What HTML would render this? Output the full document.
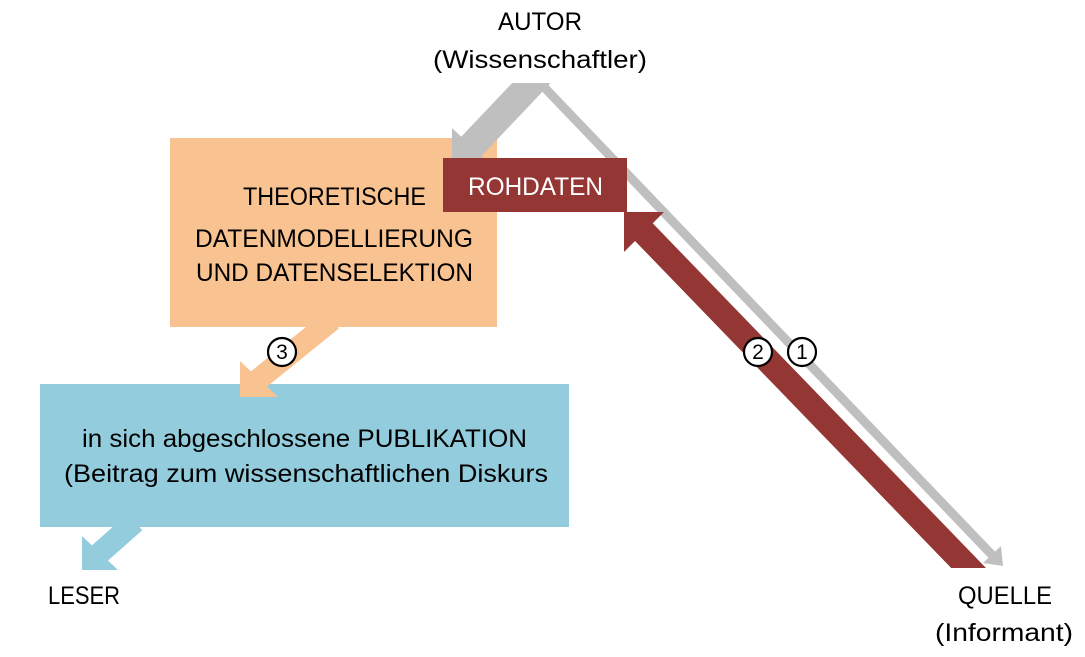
<!DOCTYPE html>
<html><head><meta charset="utf-8"><style>html,body{margin:0;padding:0;background:#fff}svg{display:block}</style></head>
<body>
<svg width="1085" height="657" viewBox="0 0 1085 657" xmlns="http://www.w3.org/2000/svg" font-family="Liberation Sans, sans-serif" font-size="25">
<defs>
<clipPath id="cr"><rect x="0" y="0" width="1085" height="568"/></clipPath>
<clipPath id="cg"><rect x="0" y="83" width="1085" height="600"/></clipPath>
</defs>
<rect x="170" y="138" width="327" height="189" fill="#F9C291"/>
<rect x="40" y="384" width="529" height="143" fill="#93CDDD"/>
<!-- gray thin arrow -->
<line x1="543" y1="86" x2="993" y2="556" stroke="#BFBFBF" stroke-width="9"/>
<polygon points="1003,566 983,563 1001,546" fill="#BFBFBF"/>
<!-- gray thick arrow -->
<g clip-path="url(#cg)">
<line x1="540" y1="74" x2="466" y2="152" stroke="#BFBFBF" stroke-width="28"/>
</g>
<polygon points="452,167 452,128 492,166" fill="#BFBFBF"/>
<rect x="443" y="158" width="184" height="54" fill="#943634"/>
<text x="468" y="195" fill="#fff" textLength="135" lengthAdjust="spacingAndGlyphs">ROHDATEN</text>
<!-- red arrow -->
<g clip-path="url(#cr)">
<line x1="985" y1="585" x2="636" y2="224" stroke="#943634" stroke-width="25"/>
</g>
<polygon points="624,212 624,252 664,212" fill="#943634"/>
<!-- orange arrow -->
<line x1="332" y1="320" x2="254" y2="383" stroke="#F9C291" stroke-width="22"/>
<polygon points="240,397 240,361 278,397" fill="#F9C291"/>
<!-- blue arrow -->
<line x1="135" y1="522" x2="92" y2="560" stroke="#93CDDD" stroke-width="22"/>
<polygon points="82,570 82,536 118,570" fill="#93CDDD"/>
<g fill="#fff" stroke="#000" stroke-width="2.2">
<circle cx="282" cy="352" r="14"/>
<circle cx="758" cy="352" r="14"/>
<circle cx="802" cy="352" r="14"/>
</g>
<g font-size="21" text-anchor="middle" fill="#000">
<text x="282" y="359">3</text>
<text x="758" y="359">2</text>
<text x="802" y="359">1</text>
</g>
<g fill="#000">
<text x="498" y="30" textLength="84" lengthAdjust="spacingAndGlyphs">AUTOR</text>
<text x="433" y="68" textLength="214" lengthAdjust="spacingAndGlyphs">(Wissenschaftler)</text>
<text x="243" y="205" textLength="183" lengthAdjust="spacingAndGlyphs">THEORETISCHE</text>
<text x="195" y="247" textLength="278" lengthAdjust="spacingAndGlyphs">DATENMODELLIERUNG</text>
<text x="196" y="281" textLength="277" lengthAdjust="spacingAndGlyphs">UND DATENSELEKTION</text>
<text x="82" y="447" textLength="445" lengthAdjust="spacingAndGlyphs">in sich abgeschlossene PUBLIKATION</text>
<text x="64" y="482" textLength="484" lengthAdjust="spacingAndGlyphs">(Beitrag zum wissenschaftlichen Diskurs</text>
<text x="48" y="604" textLength="72" lengthAdjust="spacingAndGlyphs">LESER</text>
<text x="958" y="604" textLength="94" lengthAdjust="spacingAndGlyphs">QUELLE</text>
<text x="935" y="641" textLength="138" lengthAdjust="spacingAndGlyphs">(Informant)</text>
</g>
</svg>
</body></html>
